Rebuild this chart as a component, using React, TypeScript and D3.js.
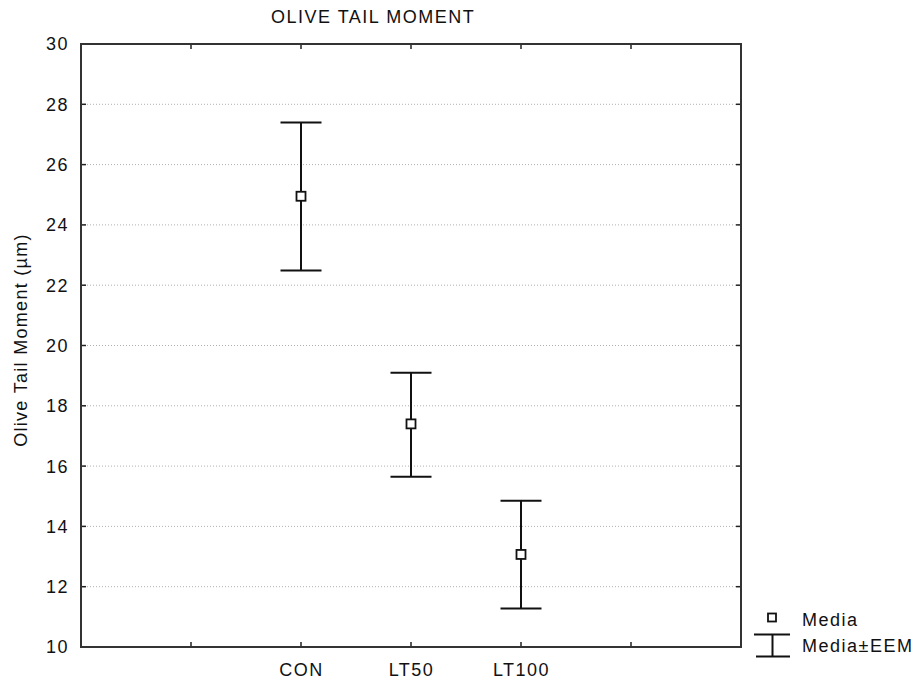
import React from "react";
import * as d3 from "d3";

// values
const categories = ["CON", "LT50", "LT100"];
const means = [24.95, 17.4, 13.07];
const upper = [27.4, 19.1, 14.85];
const lower = [22.49, 15.65, 11.28];
const xTickLabels = ["", "CON", "LT50", "LT100", ""];
const yTicks = [10, 12, 14, 16, 18, 20, 22, 24, 26, 28, 30];

const W = 920;
const H = 681;
const plot = { left: 81, right: 741, top: 44, bottom: 647 };
const font = "'Liberation Sans', Arial, sans-serif";

const App = () => {
  const x = d3
    .scalePoint<number>()
    .domain(d3.range(xTickLabels.length))
    .range([plot.left, plot.right])
    .padding(1);
  const y = d3.scaleLinear().domain([10, 30]).range([plot.bottom, plot.top]);

  const xOf = (cat: string) => x(xTickLabels.indexOf(cat)) as number;
  const capHalf = 20.5;
  const sq = 9;
  const tick = 5;

  const textStyle = { fontFamily: font, fontSize: 18, letterSpacing: 1.5, fill: "#111" };

  return (
    <svg
      width={W}
      height={H}
      style={{ position: "absolute", left: 0, top: 0, background: "#fff" }}
    >
      <text x={271} y={22.5} style={textStyle}>
        OLIVE TAIL MOMENT
      </text>

      {/* gridlines */}
      {yTicks
        .filter((t) => t > 10 && t < 30)
        .map((t) => (
          <line
            key={"g" + t}
            x1={plot.left}
            x2={plot.right}
            y1={y(t)}
            y2={y(t)}
            stroke="#b0b0b0"
            strokeWidth={1}
            strokeDasharray="1,2"
          />
        ))}

      {/* y ticks, both sides, pointing inward */}
      {yTicks.map((t) => (
        <g key={"y" + t}>
          <line x1={plot.left} x2={plot.left + tick} y1={y(t)} y2={y(t)} stroke="#222" strokeWidth={1.5} />
          <line x1={plot.right} x2={plot.right - tick} y1={y(t)} y2={y(t)} stroke="#222" strokeWidth={1.5} />
          <text x={69} y={y(t)} dy="0.36em" textAnchor="end" style={{ ...textStyle, letterSpacing: 1.5 }}>
            {t}
          </text>
        </g>
      ))}

      {/* x ticks, top and bottom */}
      {xTickLabels.map((lab, i) => (
        <g key={"x" + i}>
          <line x1={x(i)} x2={x(i)} y1={plot.bottom} y2={plot.bottom - tick} stroke="#222" strokeWidth={1.5} />
          <line x1={x(i)} x2={x(i)} y1={plot.top} y2={plot.top + tick} stroke="#222" strokeWidth={1.5} />
          {lab && (
            <text x={(x(i) as number) + 0.5} y={676} textAnchor="middle" style={textStyle}>
              {lab}
            </text>
          )}
        </g>
      ))}

      {/* frame */}
      <rect
        x={plot.left}
        y={plot.top}
        width={plot.right - plot.left}
        height={plot.bottom - plot.top}
        fill="none"
        stroke="#333"
        strokeWidth={2}
      />

      <text
        transform={`translate(27, 340) rotate(-90)`}
        textAnchor="middle"
        style={{ ...textStyle, letterSpacing: 1.3 }}
      >
        Olive Tail Moment (µm)
      </text>

      {/* error bars and means */}
      {categories.map((c, i) => {
        const cx = xOf(c);
        return (
          <g key={c} stroke="#111" strokeWidth={2}>
            <line x1={cx} x2={cx} y1={y(upper[i])} y2={y(lower[i])} />
            <line x1={cx - capHalf} x2={cx + capHalf} y1={y(upper[i])} y2={y(upper[i])} />
            <line x1={cx - capHalf} x2={cx + capHalf} y1={y(lower[i])} y2={y(lower[i])} />
            <rect
              x={cx - sq / 2}
              y={y(means[i]) - sq / 2}
              width={sq}
              height={sq}
              fill="#fff"
              strokeWidth={1.8}
            />
          </g>
        );
      })}

      {/* legend */}
      <rect x={768} y={613.5} width={8} height={8} fill="#fff" stroke="#111" strokeWidth={1.8} />
      <text x={802} y={626} style={textStyle}>
        Media
      </text>
      <g stroke="#111" strokeWidth={2}>
        <line x1={754} x2={790} y1={634.5} y2={634.5} />
        <line x1={772.5} x2={772.5} y1={634.5} y2={656.5} />
        <line x1={756} x2={790} y1={656.5} y2={656.5} />
      </g>
      <text x={802} y={652} style={textStyle}>
        Media±EEM
      </text>
    </svg>
  );
};

export default App;
